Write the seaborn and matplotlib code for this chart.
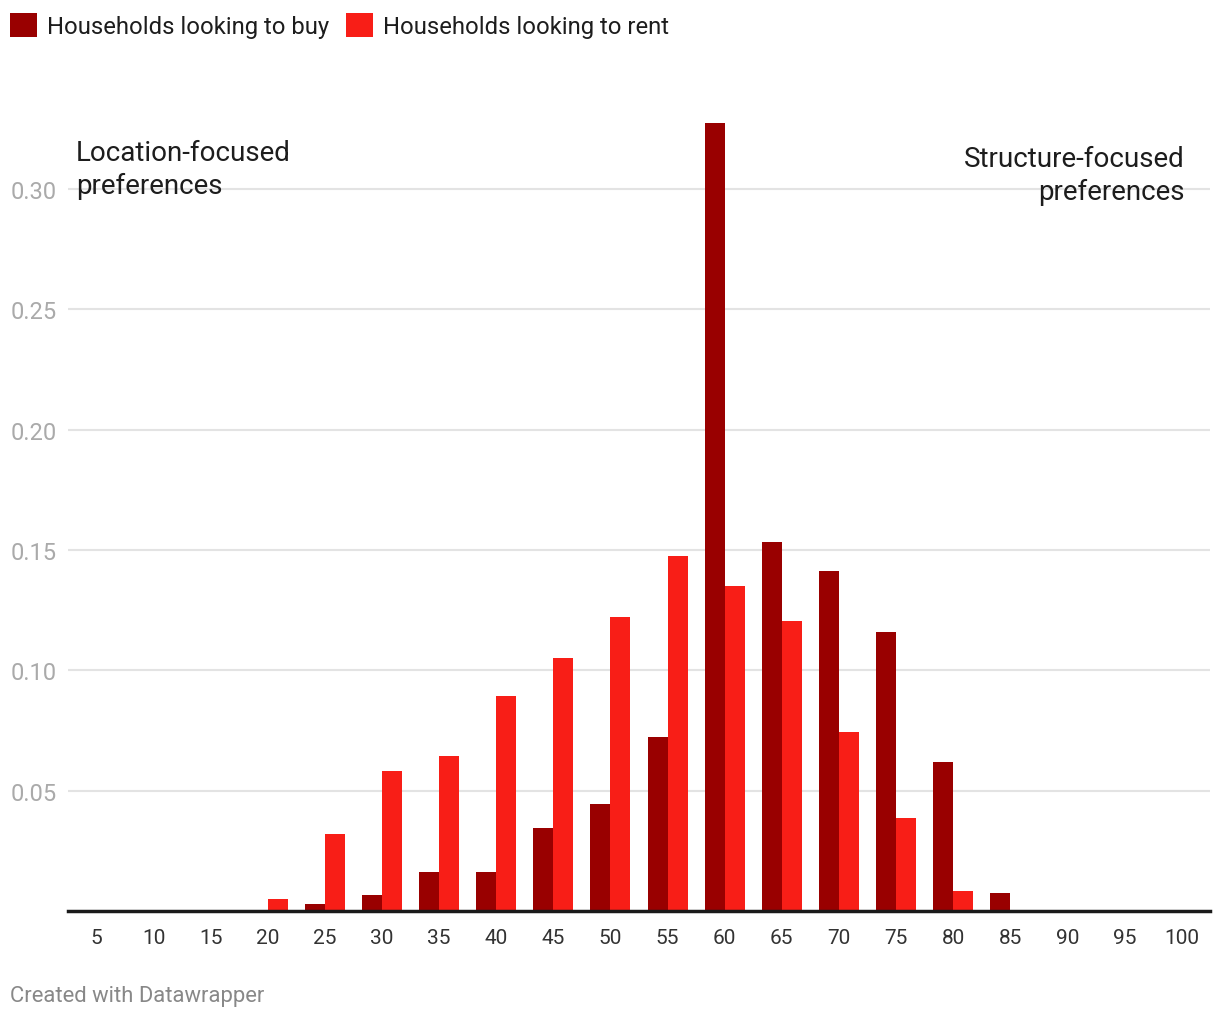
import matplotlib
matplotlib.use("Agg")
import matplotlib.pyplot as plt
import seaborn as sns
import pandas as pd
from matplotlib.patches import Patch

categories = [str(v) for v in range(5, 105, 5)]
buy_values = [0, 0, 0, 0, 0.003, 0.0066, 0.016, 0.016, 0.0345, 0.0445, 0.0723,
              0.3274, 0.1533, 0.1413, 0.1159, 0.0619, 0.0075, 0, 0, 0]
rent_values = [0, 0, 0, 0.005, 0.032, 0.0582, 0.0644, 0.0893, 0.1051, 0.1222, 0.1475,
               0.135, 0.1205, 0.0744, 0.0386, 0.0083, 0, 0, 0, 0]
series_names = ["Households looking to buy", "Households looking to rent"]
colors = ["#990000", "#F81E17"]
y_ticks = [0.05, 0.10, 0.15, 0.20, 0.25, 0.30]

df = pd.DataFrame({
    "category": categories * 2,
    "value": buy_values + rent_values,
    "series": [series_names[0]] * len(categories) + [series_names[1]] * len(categories),
})

sns.set_theme(style="white")
plt.rcParams["font.family"] = ["Roboto", "DejaVu Sans"]

fig = plt.figure(figsize=(12.2, 10.2), dpi=100)
W, H = 1220, 1020
left, right, bottom, top_px = 68, 1210, 912, 93.7
ax = fig.add_axes([left / W, 1 - bottom / H, (right - left) / W, (bottom - top_px) / H])

sns.barplot(data=df, x="category", y="value", hue="series", order=categories,
            hue_order=series_names, palette=colors, width=0.7, dodge=True,
            saturation=1, linewidth=0, ax=ax, legend=False)

ax.set_xlim(-0.5, 19.5)
ax.set_ylim(0, 0.34)
ax.set_yticks(y_ticks)
ax.set_yticklabels([f"{t:.2f}" for t in y_ticks])
ax.grid(axis="y", color="#e3e3e3", linewidth=1.5)
ax.set_axisbelow(True)
for s in ["top", "right", "left"]:
    ax.spines[s].set_visible(False)
ax.spines["bottom"].set_color("#1a1a1a")
ax.spines["bottom"].set_linewidth(2.5)
ax.set_xlabel("")
ax.set_ylabel("")
ax.tick_params(axis="x", length=0, pad=12, labelsize=15, labelcolor="#333333")
ax.tick_params(axis="y", length=0, pad=8, labelsize=17, labelcolor="#aaaaaa")

fig.text(76 / W, 1 - 170 / H, "Location-focused\npreferences", fontsize=20,
         color="#1d1d1d", ha="left", va="center", linespacing=1.28)
fig.text(1185 / W, 1 - 176 / H, "Structure-focused\npreferences", fontsize=20,
         color="#1d1d1d", ha="right", va="center", linespacing=1.28)

handles = [Patch(facecolor=c, edgecolor="none") for c in colors]
fig.legend(handles, series_names, loc="upper left", bbox_to_anchor=(-2 / W, 1 - 2 / H),
           ncol=2, frameon=False, fontsize=17.2, handlelength=1.15, handleheight=1.15,
           handletextpad=0.4, columnspacing=0.7, borderaxespad=0.2,
           borderpad=0.3, labelcolor="#1d1d1d")

fig.text(10 / W, 1 - 997 / H, "Created with Datawrapper", fontsize=15.8,
         color="#888888", ha="left", va="center")

fig.savefig("out.png", dpi=100, facecolor="white")
